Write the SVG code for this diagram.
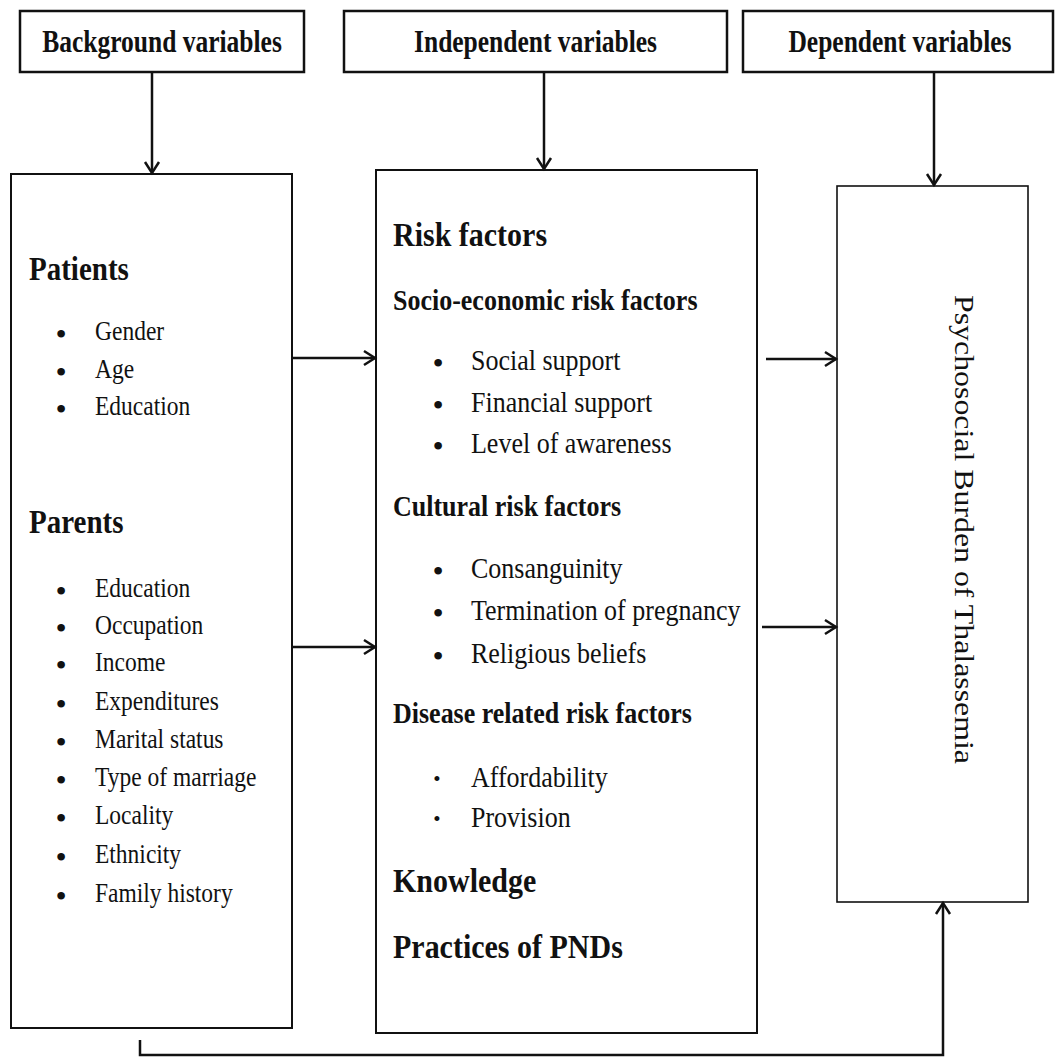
<svg xmlns="http://www.w3.org/2000/svg" width="1056" height="1059" viewBox="0 0 1056 1059">
<style>
text{font-family:"Liberation Serif","Times New Roman",serif;fill:#111}
.box{fill:#fff;stroke:#111;stroke-width:2}
.tbox{fill:#fff;stroke:#111;stroke-width:2.5}
.thin{fill:#fff;stroke:#111;stroke-width:1.6}
.conn{stroke:#111;stroke-width:2.5;fill:none}
.hd{font-weight:bold;font-size:25.5px;text-anchor:middle}
.h1{font-weight:bold;font-size:29px}
.h2{font-weight:bold;font-size:30px}
.sub{font-weight:bold;font-size:26px}
.it{font-size:23.5px}
.it2{font-size:26px}
.bl{font-size:32px;text-anchor:middle}
.bs{font-size:21px;text-anchor:middle}
.vt{font-size:27px}
</style>
<defs>
<marker id="ah" markerUnits="userSpaceOnUse" markerWidth="16" markerHeight="18" refX="13" refY="8" orient="auto" viewBox="0 0 16 16">
<path d="M2,1 L13,8 L2,15" fill="none" stroke="#111" stroke-width="2.5"/>
</marker>
</defs>
<rect width="1056" height="1059" fill="#fff"/>

<g id="bg-header">
<rect class="tbox" x="20" y="11" width="284" height="61"/>
<text class="hd" transform="translate(162,52) scale(1,1.25)">Background variables</text>
</g>
<g id="ind-header">
<rect class="tbox" x="344" y="11" width="383" height="61"/>
<text class="hd" transform="translate(535.5,52) scale(1,1.25)">Independent variables</text>
</g>
<g id="dep-header">
<rect class="tbox" x="743" y="11" width="310" height="61"/>
<text class="hd" transform="translate(900,52) scale(1,1.25)">Dependent variables</text>
</g>

<g id="background-box">
<rect class="box" x="11" y="174" width="281" height="854"/>
<text class="h1" transform="translate(29,280) scale(1,1.15)">Patients</text>
<text class="bl" x="61" y="345">•</text><text class="it" transform="translate(95,340) scale(1,1.15)">Gender</text>
<text class="bl" x="61" y="383">•</text><text class="it" transform="translate(95,378) scale(1,1.15)">Age</text>
<text class="bl" x="61" y="420">•</text><text class="it" transform="translate(95,415) scale(1,1.15)">Education</text>
<text class="h1" transform="translate(29,533) scale(1,1.15)">Parents</text>
<text class="bl" x="61" y="602">•</text><text class="it" transform="translate(95,597) scale(1,1.15)">Education</text>
<text class="bl" x="61" y="639">•</text><text class="it" transform="translate(95,634) scale(1,1.15)">Occupation</text>
<text class="bl" x="61" y="676">•</text><text class="it" transform="translate(95,671) scale(1,1.15)">Income</text>
<text class="bl" x="61" y="715">•</text><text class="it" transform="translate(95,710) scale(1,1.15)">Expenditures</text>
<text class="bl" x="61" y="753">•</text><text class="it" transform="translate(95,748) scale(1,1.15)">Marital status</text>
<text class="bl" x="61" y="791">•</text><text class="it" transform="translate(95,786) scale(1,1.15)">Type of marriage</text>
<text class="bl" x="61" y="829">•</text><text class="it" transform="translate(95,824) scale(1,1.15)">Locality</text>
<text class="bl" x="61" y="868">•</text><text class="it" transform="translate(95,863) scale(1,1.15)">Ethnicity</text>
<text class="bl" x="61" y="907">•</text><text class="it" transform="translate(95,902) scale(1,1.15)">Family history</text>
</g>

<g id="independent-box">
<rect class="box" x="376" y="170" width="381" height="863"/>
<text class="h2" transform="translate(393,246) scale(1,1.15)">Risk factors</text>
<text class="sub" transform="translate(393,310) scale(1,1.15)">Socio-economic risk factors</text>
<text class="bl" x="438" y="374">•</text><text class="it2" transform="translate(471,370) scale(1,1.15)">Social support</text>
<text class="bl" x="438" y="416">•</text><text class="it2" transform="translate(471,412) scale(1,1.15)">Financial support</text>
<text class="bl" x="438" y="457">•</text><text class="it2" transform="translate(471,453) scale(1,1.15)">Level of awareness</text>
<text class="sub" transform="translate(393,516) scale(1,1.15)">Cultural risk factors</text>
<text class="bl" x="438" y="582">•</text><text class="it2" transform="translate(471,578) scale(1,1.15)">Consanguinity</text>
<text class="bl" x="438" y="624">•</text><text class="it2" transform="translate(471,620) scale(1,1.15)">Termination of pregnancy</text>
<text class="bl" x="438" y="667">•</text><text class="it2" transform="translate(471,663) scale(1,1.15)">Religious beliefs</text>
<text class="sub" transform="translate(393,723) scale(1,1.15)">Disease related risk factors</text>
<text class="bs" x="437" y="786">•</text><text class="it2" transform="translate(471,787) scale(1,1.15)">Affordability</text>
<text class="bs" x="437" y="826">•</text><text class="it2" transform="translate(471,827) scale(1,1.15)">Provision</text>
<text class="h2" transform="translate(393,892) scale(1,1.15)">Knowledge</text>
<text class="h2" transform="translate(393,958) scale(1,1.15)">Practices of PNDs</text>
</g>

<g id="dependent-box">
<rect class="thin" x="837" y="186" width="191" height="716"/>
<text class="vt" transform="translate(955,295) rotate(90)" textLength="469" lengthAdjust="spacingAndGlyphs">Psychosocial Burden of Thalassemia</text>
</g>

<g id="connectors">
<line class="conn" x1="152" y1="72" x2="152" y2="173" marker-end="url(#ah)"/>
<line class="conn" x1="544" y1="72" x2="544" y2="169" marker-end="url(#ah)"/>
<line class="conn" x1="934" y1="72" x2="934" y2="185" marker-end="url(#ah)"/>
<line class="conn" x1="292" y1="358" x2="375" y2="358" marker-end="url(#ah)"/>
<line class="conn" x1="292" y1="647" x2="375" y2="647" marker-end="url(#ah)"/>
<line class="conn" x1="766" y1="359" x2="836" y2="359" marker-end="url(#ah)"/>
<line class="conn" x1="762" y1="627" x2="836" y2="627" marker-end="url(#ah)"/>
<polyline class="conn" points="140,1040 140,1055 943,1055 943,903" marker-end="url(#ah)"/>
</g>
</svg>
